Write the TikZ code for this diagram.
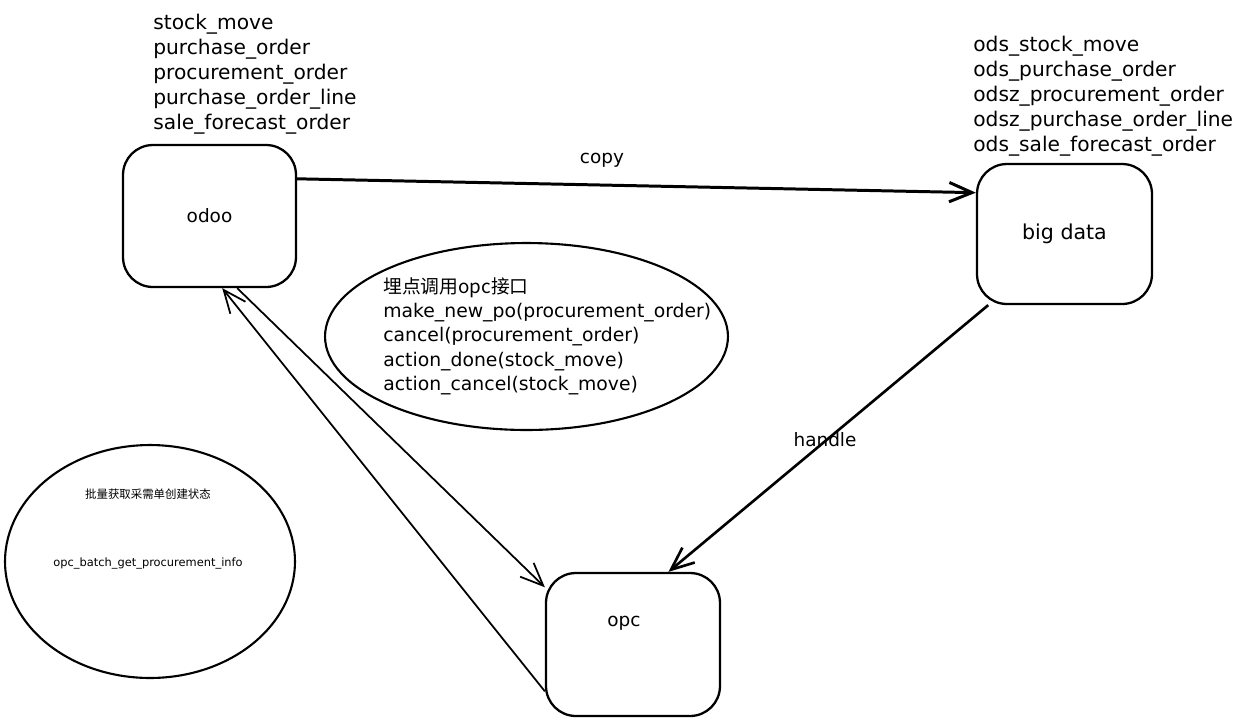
\documentclass[tikz,border=0pt]{standalone}
\usepackage{fontspec}
\setmainfont{DejaVu Sans}
\newfontfamily\cjk{Noto Sans CJK SC}
\usepackage{tikz}
\usetikzlibrary{positioning, arrows.meta, shapes.geometric}

\begin{document}
\begin{tikzpicture}[x=0.02cm, y=-0.02cm,
  box/.style={draw, line width=1.3pt, rounded corners=17pt, inner sep=0pt},
  bubble/.style={draw, ellipse, line width=1.2pt, inner sep=0pt},
  txt/.style={font=\fontsize{10.5}{14.2}\selectfont, align=left, inner sep=0pt},
  tabs/.style={font=\fontsize{11.5}{14.2}\selectfont, align=left, inner sep=0pt, anchor=north west},
  small/.style={font=\fontsize{6.5}{8}\selectfont, inner sep=0pt},
  tip/.style={-{Straight Barb[length=13pt,width=11pt]}}]
\useasboundingbox (0,0) rectangle (1242,725);

% the three systems
\node[box, txt, minimum width=3.46cm, minimum height=2.84cm] (odoo) at (209.5,216) {odoo};
\node[box, txt, font=\fontsize{11.7}{14.2}\selectfont, minimum width=3.5cm, minimum height=2.8cm] (bigdata) at (1064.5,234) {big data};
\node[box, minimum width=3.48cm, minimum height=2.86cm,
  label={[txt, shift={(-9,-21)}]center:opc}] (opc) at (633,644.5) {};

% table lists
\node[tabs] (odootabs) at (153,14)
  {stock\_move\\purchase\_order\\procurement\_order\\purchase\_order\_line\\sale\_forecast\_order};
\node[tabs] (bigtabs) at (973,36)
  {ods\_stock\_move\\ods\_purchase\_order\\odsz\_procurement\_order\\odsz\_purchase\_order\_line\\ods\_sale\_forecast\_order};

% calls into opc
\node[bubble, minimum width=8.06cm, minimum height=3.74cm] (hook) at (526.5,336.5) {};
\node[txt, font=\fontsize{10.7}{13.9}\selectfont, anchor=north west] (hooktext) at (383,277)
  {{\cjk 埋点调用opc接口}\\make\_new\_po(procurement\_order)\\cancel(procurement\_order)\\action\_done(stock\_move)\\action\_cancel(stock\_move)};

\node[bubble, minimum width=5.8cm, minimum height=4.66cm] (batch) at (150,561.5) {};
\node[small] (batchcn) at (148,494) {\cjk 批量获取采需单创建状态};
\node[small] (batchfn) at (148,563) {opc\_batch\_get\_procurement\_info};

% flows
\draw[tip, line width=1.7pt] (odoo.23) -- (bigdata.155);
\node[txt] (copylbl) at (602,160) {copy};
\draw[tip, line width=1.5pt] (bigdata.223) -- (opc.64);
\node[txt] (handlelbl) at (825,440) {handle};
\draw[tip, line width=1pt] (odoo.-69) -- (opc.147);
\draw[tip, line width=1pt] (opc.208) -- (odoo.-80);
\end{tikzpicture}
\end{document}
